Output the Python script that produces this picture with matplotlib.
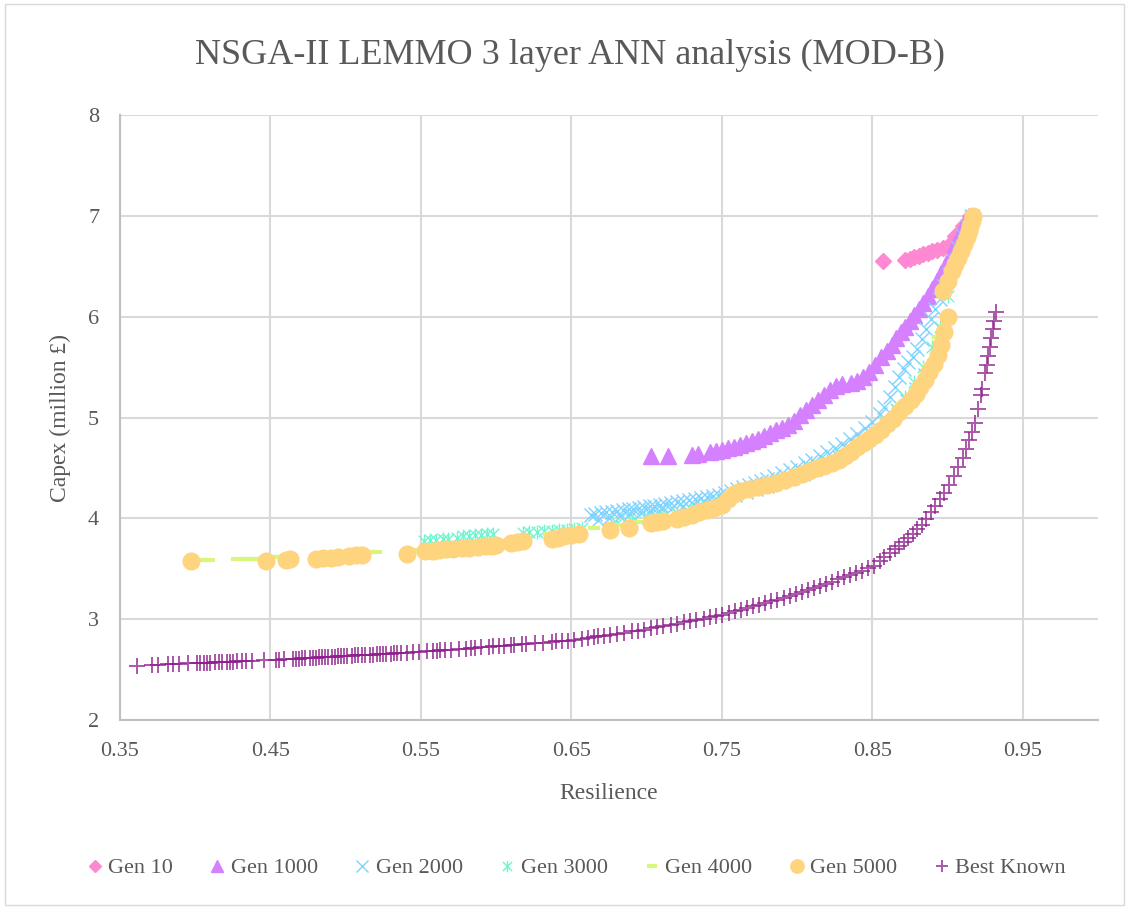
import matplotlib
matplotlib.use("Agg")
import matplotlib.pyplot as plt
from matplotlib.patches import Rectangle
from matplotlib.path import Path

# ---- data ----
gen10_x = [0.857, 0.872, 0.875, 0.878, 0.881, 0.884, 0.887, 0.890, 0.893, 0.897, 0.901, 0.905, 0.910, 0.915]
gen10_y = [6.55, 6.56, 6.57, 6.59, 6.60, 6.62, 6.63, 6.65, 6.66, 6.68, 6.71, 6.80, 6.90, 7.00]

gen1000_x = [0.703, 0.714, 0.730, 0.734, 0.742, 0.746, 0.750, 0.754, 0.758, 0.762, 0.766, 0.770, 0.774,
             0.778, 0.782, 0.786, 0.790, 0.794, 0.798, 0.802, 0.806, 0.810, 0.814, 0.818, 0.822, 0.826,
             0.830, 0.836, 0.840, 0.844, 0.848, 0.852, 0.856, 0.860, 0.863, 0.866, 0.869, 0.872, 0.875,
             0.878, 0.881, 0.884, 0.887, 0.890, 0.893, 0.896, 0.899, 0.902, 0.905, 0.908, 0.911, 0.914]
gen1000_y = [4.62, 4.62, 4.63, 4.64, 4.66, 4.67, 4.68, 4.70, 4.71, 4.73, 4.75, 4.77, 4.79,
             4.82, 4.85, 4.88, 4.90, 4.93, 4.97, 5.02, 5.07, 5.12, 5.17, 5.22, 5.27, 5.31,
             5.33, 5.34, 5.36, 5.40, 5.45, 5.52, 5.60, 5.66, 5.72, 5.79, 5.85, 5.90, 5.96,
             6.02, 6.08, 6.14, 6.20, 6.27, 6.35, 6.43, 6.52, 6.62, 6.72, 6.82, 6.92, 7.00]

gen2000_x = [0.663, 0.666, 0.670, 0.673, 0.677, 0.680, 0.684, 0.688, 0.691, 0.695, 0.698, 0.702, 0.705,
             0.709, 0.712, 0.716, 0.720, 0.724, 0.728, 0.732, 0.736, 0.740, 0.744, 0.748, 0.752, 0.756,
             0.760, 0.764, 0.768, 0.772, 0.776, 0.780, 0.785, 0.790, 0.795, 0.800, 0.805, 0.810, 0.815,
             0.820, 0.825, 0.830, 0.835, 0.840, 0.845, 0.850, 0.855, 0.858, 0.862, 0.865, 0.868, 0.871,
             0.874, 0.877, 0.880, 0.883, 0.886, 0.889, 0.892, 0.895, 0.898, 0.901, 0.904, 0.907, 0.910,
             0.913, 0.916,
             0.668, 0.675, 0.682, 0.689, 0.696, 0.703, 0.710, 0.717, 0.724, 0.731, 0.738, 0.745,
             0.752, 0.759, 0.766, 0.773, 0.780, 0.788, 0.796, 0.804, 0.812, 0.820, 0.828, 0.836,
             0.844, 0.852, 0.860, 0.867, 0.873, 0.879, 0.885]
gen2000_y = [4.03, 4.04, 4.05, 4.06, 4.06, 4.07, 4.08, 4.09, 4.09, 4.10, 4.11, 4.12, 4.12,
             4.13, 4.14, 4.15, 4.16, 4.17, 4.18, 4.19, 4.20, 4.21, 4.22, 4.23, 4.25, 4.27,
             4.29, 4.31, 4.33, 4.35, 4.37, 4.39, 4.42, 4.45, 4.48, 4.51, 4.55, 4.58, 4.62,
             4.66, 4.70, 4.74, 4.79, 4.84, 4.90, 4.96, 5.03, 5.10, 5.20, 5.30, 5.40, 5.48,
             5.55, 5.60, 5.68, 5.78, 5.88, 5.98, 6.08, 6.18, 6.30, 6.42, 6.55, 6.68, 6.80,
             6.90, 7.00,
             3.98, 4.00, 4.02, 4.04, 4.05, 4.07, 4.09, 4.10, 4.12, 4.14, 4.16, 4.18,
             4.20, 4.23, 4.26, 4.29, 4.32, 4.36, 4.40, 4.44, 4.49, 4.55, 4.61, 4.68,
             4.76, 4.85, 4.95, 5.06, 5.16, 5.28, 5.42]

gen3000_x = [0.552, 0.556, 0.560, 0.565, 0.568, 0.574, 0.578, 0.582, 0.586, 0.590, 0.594, 0.598,
             0.618, 0.622, 0.627, 0.632, 0.637, 0.642, 0.647, 0.652, 0.657, 0.680, 0.690, 0.700,
             0.710, 0.720, 0.730, 0.740, 0.750, 0.760, 0.770, 0.780, 0.790, 0.800, 0.810, 0.820,
             0.830, 0.840, 0.850, 0.860, 0.866, 0.872, 0.878, 0.884, 0.890, 0.895, 0.900, 0.905,
             0.910, 0.915]
gen3000_y = [3.78, 3.79, 3.79, 3.80, 3.80, 3.81, 3.82, 3.82, 3.83, 3.83, 3.84, 3.84,
             3.85, 3.86, 3.86, 3.87, 3.87, 3.88, 3.88, 3.89, 3.90, 3.95, 3.97, 4.00,
             4.02, 4.05, 4.08, 4.12, 4.18, 4.24, 4.30, 4.35, 4.40, 4.45, 4.51, 4.57,
             4.64, 4.72, 4.83, 4.97, 5.08, 5.20, 5.35, 5.50, 5.70, 5.90, 6.20, 6.50,
             6.75, 7.00]

gen4000_x = [0.405, 0.409, 0.428, 0.434, 0.440, 0.444, 0.452, 0.456, 0.516, 0.520, 0.545, 0.549,
             0.560, 0.575, 0.590, 0.605, 0.620, 0.635, 0.650, 0.665, 0.680, 0.695, 0.710, 0.725,
             0.740, 0.755, 0.770, 0.785, 0.800, 0.815, 0.830, 0.840, 0.850, 0.860, 0.870, 0.880,
             0.888, 0.894, 0.900, 0.905, 0.910, 0.914, 0.917]
gen4000_y = [3.59, 3.59, 3.595, 3.60, 3.60, 3.60, 3.615, 3.62, 3.665, 3.67, 3.68, 3.685,
             3.70, 3.72, 3.75, 3.78, 3.81, 3.84, 3.87, 3.90, 3.93, 3.96, 3.99, 4.03,
             4.09, 4.18, 4.30, 4.37, 4.44, 4.52, 4.62, 4.70, 4.82, 4.97, 5.13, 5.32,
             5.52, 5.80, 6.28, 6.50, 6.70, 6.85, 7.00]

gen5000_x = [0.397, 0.447, 0.460, 0.463, 0.480, 0.485, 0.490, 0.495, 0.502, 0.507, 0.511, 0.541,
             0.553, 0.558, 0.562, 0.567, 0.571, 0.577, 0.582, 0.588, 0.593, 0.597, 0.600, 0.610,
             0.614, 0.618, 0.637, 0.641, 0.645, 0.650, 0.655, 0.676, 0.688, 0.703, 0.707, 0.711,
             0.720, 0.725, 0.730, 0.735, 0.740, 0.745, 0.750, 0.754, 0.758, 0.762, 0.768, 0.774,
             0.780, 0.786, 0.792, 0.798, 0.803, 0.808, 0.813, 0.818, 0.823, 0.828, 0.832, 0.836,
             0.840, 0.844, 0.848, 0.852, 0.856, 0.860, 0.864, 0.868, 0.872, 0.876, 0.879, 0.882,
             0.885, 0.888, 0.891, 0.894, 0.896, 0.898, 0.900,
             0.897, 0.900, 0.903, 0.905, 0.907, 0.909, 0.911, 0.913, 0.914, 0.915, 0.916, 0.917]
gen5000_y = [3.58, 3.58, 3.59, 3.60, 3.60, 3.61, 3.61, 3.62, 3.63, 3.64, 3.64, 3.65,
             3.68, 3.68, 3.69, 3.70, 3.70, 3.71, 3.71, 3.72, 3.73, 3.73, 3.74, 3.76,
             3.77, 3.78, 3.80, 3.81, 3.82, 3.83, 3.84, 3.88, 3.90, 3.95, 3.96, 3.97,
             3.99, 4.01, 4.03, 4.06, 4.08, 4.10, 4.13, 4.19, 4.24, 4.27, 4.29, 4.31,
             4.33, 4.35, 4.38, 4.41, 4.44, 4.47, 4.50, 4.52, 4.55, 4.58, 4.62, 4.66,
             4.71, 4.75, 4.79, 4.83, 4.88, 4.94, 4.99, 5.05, 5.11, 5.17, 5.23, 5.30,
             5.37, 5.45, 5.53, 5.62, 5.72, 5.85, 6.00,
             6.25, 6.35, 6.45, 6.52, 6.58, 6.65, 6.72, 6.79, 6.85, 6.90, 6.95, 7.00]

best_x = [0.361, 0.371, 0.375, 0.382, 0.385, 0.389, 0.395, 0.401, 0.403, 0.406, 0.408, 0.410, 0.413,
          0.416, 0.418, 0.421, 0.423, 0.425, 0.428, 0.431, 0.434, 0.438, 0.446, 0.454, 0.456, 0.459,
          0.465, 0.467, 0.469, 0.471, 0.473, 0.476, 0.478, 0.480, 0.482, 0.484, 0.486, 0.488, 0.491,
          0.493, 0.495, 0.497, 0.499, 0.501, 0.504, 0.506, 0.508, 0.511, 0.513, 0.516, 0.518, 0.521,
          0.523, 0.525, 0.527, 0.530, 0.532, 0.534, 0.537, 0.541, 0.545, 0.549, 0.554, 0.558, 0.561,
          0.563, 0.566, 0.570, 0.575, 0.580, 0.583, 0.586, 0.590, 0.595, 0.598, 0.602, 0.605, 0.610,
          0.612, 0.617, 0.620, 0.626, 0.631, 0.637, 0.640, 0.644, 0.648, 0.652, 0.657, 0.661, 0.665,
          0.668, 0.672, 0.676, 0.680, 0.685, 0.690, 0.694, 0.698, 0.703, 0.707, 0.711, 0.716, 0.720,
          0.725, 0.729, 0.733, 0.738, 0.742, 0.746, 0.750, 0.755, 0.759, 0.763, 0.767, 0.771, 0.775,
          0.779, 0.783, 0.787, 0.791, 0.795, 0.799, 0.803, 0.807, 0.811, 0.815, 0.819, 0.823, 0.827,
          0.831, 0.835, 0.839, 0.843, 0.847, 0.851, 0.855, 0.858, 0.862, 0.865, 0.868, 0.871, 0.874,
          0.877, 0.880, 0.883, 0.886, 0.889, 0.892, 0.895, 0.898, 0.901, 0.904, 0.907, 0.910, 0.912,
          0.914, 0.916, 0.918, 0.920, 0.922, 0.923, 0.925, 0.926, 0.927, 0.928, 0.929, 0.930, 0.931,
          0.932]
best_y = [2.540, 2.546, 2.549, 2.553, 2.555, 2.557, 2.561, 2.565, 2.566, 2.568, 2.569, 2.570, 2.572,
          2.574, 2.575, 2.577, 2.578, 2.580, 2.581, 2.583, 2.585, 2.588, 2.592, 2.598, 2.600, 2.602,
          2.607, 2.608, 2.610, 2.612, 2.613, 2.616, 2.617, 2.619, 2.620, 2.622, 2.624, 2.625, 2.628,
          2.629, 2.631, 2.633, 2.634, 2.636, 2.638, 2.640, 2.641, 2.644, 2.645, 2.648, 2.649, 2.652,
          2.653, 2.655, 2.657, 2.659, 2.661, 2.662, 2.665, 2.668, 2.671, 2.674, 2.680, 2.684, 2.688,
          2.690, 2.693, 2.698, 2.704, 2.709, 2.713, 2.716, 2.721, 2.727, 2.730, 2.735, 2.738, 2.744,
          2.746, 2.752, 2.756, 2.762, 2.768, 2.775, 2.779, 2.783, 2.788, 2.794, 2.805, 2.814, 2.823,
          2.830, 2.838, 2.847, 2.856, 2.867, 2.878, 2.887, 2.896, 2.908, 2.920, 2.931, 2.945, 2.956,
          2.970, 2.981, 2.992, 3.006, 3.018, 3.029, 3.040, 3.061, 3.078, 3.095, 3.111, 3.128, 3.145,
          3.162, 3.179, 3.195, 3.212, 3.229, 3.246, 3.266, 3.287, 3.308, 3.330, 3.351, 3.372, 3.394,
          3.415, 3.438, 3.460, 3.482, 3.504, 3.531, 3.578, 3.612, 3.658, 3.693, 3.727, 3.764, 3.806,
          3.848, 3.890, 3.932, 3.994, 4.059, 4.125, 4.191, 4.256, 4.330, 4.420, 4.510, 4.600, 4.690,
          4.780, 4.860, 4.950, 5.080, 5.220, 5.280, 5.440, 5.520, 5.610, 5.700, 5.790, 5.880, 5.960,
          6.050]

x_ticks = [0.35, 0.45, 0.55, 0.65, 0.75, 0.85, 0.95]
y_ticks = [2, 3, 4, 5, 6, 7, 8]

plt.rcParams['font.family'] = ['Liberation Serif', 'DejaVu Serif']
txt = '#595959'

# Excel style "star" marker: an x with a vertical bar through it
star = Path([(-1, -1), (1, 1), (-1, 1), (1, -1), (0, -1.2), (0, 1.2)],
            [Path.MOVETO, Path.LINETO, Path.MOVETO, Path.LINETO, Path.MOVETO, Path.LINETO])

fig = plt.figure(figsize=(11.29, 9.09), dpi=100)
ax = fig.add_axes([0.1063, 0.2079, 0.8662, 0.6656])

ax.plot(gen10_x, gen10_y, ls='none', marker='D', ms=8, color='#FF88D2', mec='#FF88D2', label='Gen 10')
ax.plot(gen1000_x, gen1000_y, ls='none', marker='^', ms=11, color='#D580FF', mec='#D580FF', label='Gen 1000')
ax.plot(gen2000_x, gen2000_y, ls='none', marker='x', ms=10, mew=1.0, color='#7FD3FF', label='Gen 2000')
ax.plot(gen3000_x, gen3000_y, ls='none', marker=star, ms=10, mew=1.0, color='#6FF5CF', label='Gen 3000')
ax.plot(gen4000_x, gen4000_y, ls='none', marker='_', ms=9, mew=3, color='#D6F77A', label='Gen 4000')
ax.plot(gen5000_x, gen5000_y, ls='none', marker='o', ms=12, color='#FFD47F', mec='#FFD47F', label='Gen 5000')
ax.plot(best_x, best_y, ls='none', marker='+', ms=11, mew=1.4, color='#8E1F8D', alpha=0.75, label='Best Known')

ax.set_xlim(0.35, 1.0)
ax.set_ylim(2, 8)
ax.set_xticks(x_ticks)
ax.set_xticklabels(['%.2f' % v for v in x_ticks])
ax.set_yticks(y_ticks)
ax.grid(True, color='#D9D9D9', lw=1.5)
ax.set_axisbelow(True)
for s in ['top', 'right']:
    ax.spines[s].set_visible(False)
for s in ['left', 'bottom']:
    ax.spines[s].set_color('#BFBFBF')
    ax.spines[s].set_linewidth(1.5)
ax.tick_params(length=0, labelsize=16, colors=txt)
ax.tick_params(axis='x', pad=16)
ax.tick_params(axis='y', pad=15)

ax.set_xlabel('Resilience', fontsize=17, color=txt, labelpad=16)
ax.set_ylabel('Capex (million £)', fontsize=17, color=txt, labelpad=12)
fig.text(0.505, 0.939, 'NSGA-II LEMMO 3 layer ANN analysis (MOD-B)', ha='center', va='center',
         fontsize=26, color=txt)

handles, labels = ax.get_legend_handles_labels()
leg = fig.legend(handles, labels, loc='center', bbox_to_anchor=(0.51, 0.045), ncol=7, frameon=False,
                 fontsize=16, handlelength=0.8, handletextpad=0.2, columnspacing=1.6, markerscale=0.8)
for t in leg.get_texts():
    t.set_color(txt)

fig.patches.append(Rectangle((0.004, 0.004), 0.992, 0.992, transform=fig.transFigure,
                             fill=False, ec='#D9D9D9', lw=1))

fig.savefig('out.png', dpi=100)
